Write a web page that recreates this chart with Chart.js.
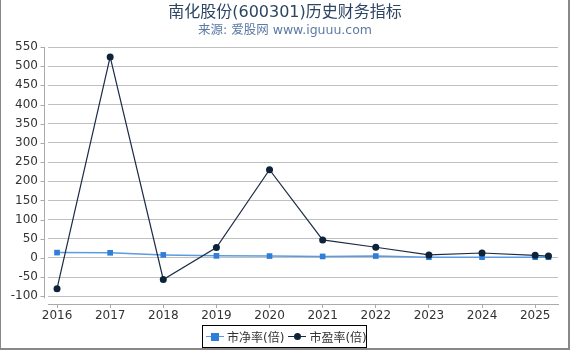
<!DOCTYPE html>
<html><head><meta charset="utf-8">
<script src="https://cdn.jsdelivr.net/npm/chart.js@4/dist/chart.umd.min.js"></script>
<style>
html,body{margin:0;padding:0;background:#fff;}
#wrap{position:relative;width:570px;height:350px;overflow:hidden;}
.bd{position:absolute;background:#888;}
#title{position:absolute;left:0;width:570px;top:-2px;text-align:center;font-family:"DejaVu Sans","Noto Sans CJK SC",sans-serif;font-size:16px;color:#2b4563;white-space:nowrap;}
#sub{position:absolute;left:0;width:570px;top:19px;text-align:center;font-family:"DejaVu Sans","Noto Sans CJK SC",sans-serif;font-size:12.5px;color:#5b7aa3;white-space:nowrap;}
#legend{position:absolute;left:202px;top:325px;width:165px;height:23px;box-sizing:border-box;border:1px solid #000;font-family:"DejaVu Sans","Noto Sans CJK SC",sans-serif;font-size:12px;color:#333;display:flex;align-items:center;padding-left:3px;white-space:nowrap;background:#fff;}
.item{display:flex;align-items:center;margin-right:4px;white-space:nowrap;}
.sym{position:relative;width:18px;height:10px;margin-right:3px;flex:none;}
.sym .ln{position:absolute;left:0;right:0;top:4px;height:1.5px;}
.sym .mk{position:absolute;left:5px;top:1px;width:8px;height:8px;}
canvas{position:absolute;left:0;top:0;}
</style></head>
<body><div id="wrap">
<canvas id="c" width="570" height="350"></canvas>
<div class="bd" style="left:0;top:0;width:1px;height:350px"></div>
<div class="bd" style="right:0;top:0;width:2px;height:350px"></div>
<div class="bd" style="left:0;bottom:0;width:570px;height:2px"></div>
<div id="title">南化股份(600301)历史财务指标</div>
<div id="sub">来源: 爱股网 www.iguuu.com</div>
<div id="legend">
 <div class="item"><div class="sym"><div class="ln" style="background:#5b9be0"></div><div class="mk" style="background:#2f7ed8"></div></div>市净率(倍)</div>
 <div class="item"><div class="sym"><div class="ln" style="background:#1c2b45"></div><div class="mk" style="background:#0d233a;border-radius:50%;width:7px;height:7px;left:5.5px;top:1.5px"></div></div>市盈率(倍)</div>
</div>
</div>
<script>
const years = [2016, 2017, 2018, 2019, 2020, 2021, 2022, 2023, 2024, 2025, 2025.25];
const pbValues = [14, 13.5, 8, 5.5, 5, 4, 5, 2, 2, 2, 2];
const peValues = [-80, 524, -56, 27, 230, 47, 28, 8, 13, 7, 5];
const xTicks = [2016, 2017, 2018, 2019, 2020, 2021, 2022, 2023, 2024, 2025];
const yTicks = [-100, -50, 0, 50, 100, 150, 200, 250, 300, 350, 400, 450, 500, 550];
const seriesNames = ['市净率(倍)', '市盈率(倍)'];

const axisPlugin = {
  id: 'axisPlugin',
  afterDraw(chart) {
    const ctx = chart.ctx, ys = chart.scales.y, a = chart.chartArea;
    ctx.save();
    ctx.strokeStyle = '#aaa';
    ctx.lineWidth = 1;
    const x0 = Math.round(a.left - 4) + 0.5;
    ctx.beginPath();
    ctx.moveTo(x0, a.top);
    ctx.lineTo(x0, ys.getPixelForValue(-100) + 2);
    yTicks.forEach(v => {
      const p = Math.round(ys.getPixelForValue(v)) + 0.5;
      ctx.moveTo(x0 - 4, p); ctx.lineTo(x0, p);
    });
    ctx.stroke();
    ctx.restore();
  }
};

new Chart(document.getElementById('c'), {
  type: 'line',
  data: {
    datasets: [
      { label: seriesNames[0], data: years.map((x, i) => ({x, y: pbValues[i]})),
        borderColor: '#5b9be0', backgroundColor: '#2f7ed8', borderWidth: 1.5,
        pointStyle: 'rect', pointRadius: 4, pointBorderWidth: 0, pointBackgroundColor: '#2f7ed8', tension: 0, order: 2 },
      { label: seriesNames[1], data: years.map((x, i) => ({x, y: peValues[i]})),
        borderColor: '#1c2b45', backgroundColor: '#0d233a', borderWidth: 1.2,
        pointStyle: 'circle', pointRadius: 3.5, pointBorderWidth: 0, pointBackgroundColor: '#0d233a', tension: 0, order: 1 }
    ]
  },
  options: {
    responsive: false, animation: false, devicePixelRatio: 1,
    layout: { padding: { left: 0, top: 47, right: 12, bottom: 6 } },
    plugins: { legend: { display: false }, title: { display: false }, tooltip: { enabled: false } },
    scales: {
      x: {
        type: 'linear', min: 2015.83, max: 2025.43,
        afterBuildTicks: s => { s.ticks = xTicks.map(v => ({value: v})); },
        afterFit: s => { s.height = 40; },
        grid: { display: true, drawOnChartArea: false, drawTicks: true, tickLength: 4, color: '#aaa' },
        border: { display: true, color: '#aaa' },
        ticks: { callback: v => String(v), color: '#333', font: { family: 'DejaVu Sans', size: 12 }, padding: 1, maxRotation: 0 }
      },
      y: {
        min: -120, max: 550,
        afterBuildTicks: s => { s.ticks = yTicks.map(v => ({value: v})); },
        afterFit: s => { s.width = 48; },
        grid: { color: '#c0c0c0', drawTicks: false },
        border: { display: false },
        ticks: { color: '#333', font: { family: 'DejaVu Sans', size: 12 }, padding: 10 }
      }
    }
  },
  plugins: [axisPlugin]
});
</script>
</body></html>
